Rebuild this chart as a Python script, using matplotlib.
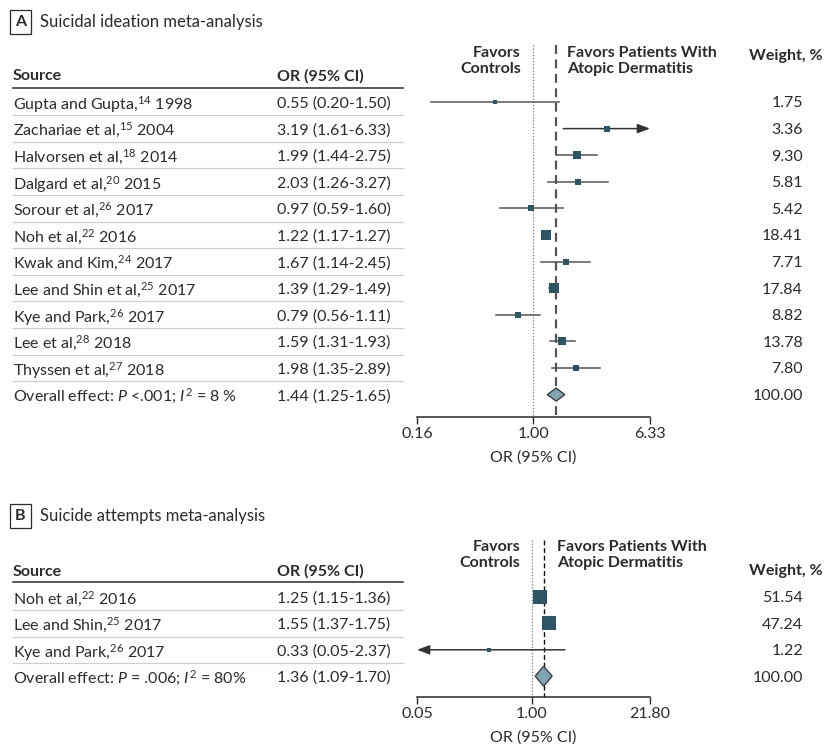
import numpy as np
import matplotlib.pyplot as plt
from matplotlib.transforms import blended_transform_factory
from matplotlib.patches import Polygon
from matplotlib.ticker import NullLocator

plt.rcParams['font.family'] = ['Lato', 'DejaVu Sans']
plt.rcParams['mathtext.fontset'] = 'custom'
plt.rcParams['mathtext.rm'] = 'Lato'
plt.rcParams['mathtext.it'] = 'Lato:italic'
plt.rcParams['mathtext.bf'] = 'Lato:bold'

W, H = 825, 747
TXT = '#2b2b2b'
SQ = '#2d5563'
DIA = '#7fa5b3'
CI_COL = '#555555'
FS = 11.5

# Panel A: suicidal ideation
src_a = ["Gupta and Gupta,$^{14}$ 1998", "Zachariae et al,$^{15}$ 2004",
         "Halvorsen et al,$^{18}$ 2014", "Dalgard et al,$^{20}$ 2015",
         "Sorour et al,$^{26}$ 2017", "Noh et al,$^{22}$ 2016",
         "Kwak and Kim,$^{24}$ 2017", "Lee and Shin et al,$^{25}$ 2017",
         "Kye and Park,$^{26}$ 2017", "Lee et al,$^{28}$ 2018",
         "Thyssen et al,$^{27}$ 2018"]
or_a = [0.55, 3.19, 1.99, 2.03, 0.97, 1.22, 1.67, 1.39, 0.79, 1.59, 1.98]
lo_a = [0.20, 1.61, 1.44, 1.26, 0.59, 1.17, 1.14, 1.29, 0.56, 1.31, 1.35]
hi_a = [1.50, 6.33, 2.75, 3.27, 1.60, 1.27, 2.45, 1.49, 1.11, 1.93, 2.89]
wt_a = [1.75, 3.36, 9.30, 5.81, 5.42, 18.41, 7.71, 17.84, 8.82, 13.78, 7.80]
overall_a = [1.44, 1.25, 1.65]
overall_lbl_a = "Overall effect: $P$ <.001; $I^{2}$ = 8 %"
ticks_a = [0.16, 1.00, 6.33]

# Panel B: suicide attempts
src_b = ["Noh et al,$^{22}$ 2016", "Lee and Shin,$^{25}$ 2017",
         "Kye and Park,$^{26}$ 2017"]
or_b = [1.25, 1.55, 0.33]
lo_b = [1.15, 1.37, 0.05]
hi_b = [1.36, 1.75, 2.37]
wt_b = [51.54, 47.24, 1.22]
overall_b = [1.36, 1.09, 1.70]
overall_lbl_b = "Overall effect: $P$ = .006; $I^{2}$ = 80%"
ticks_b = [0.05, 1.00, 21.80]

fig = plt.figure(figsize=(W / 100, H / 100), dpi=100)


def fx(px):
    return px / W


def panel(letter, title, title_y, src, ors, los, his, wts, overall, overall_lbl,
          ticks, row0, step, head_y, axis_y, line_top, fav_y, fav_right_x,
          fav_left_x, weight_head_y, src_head_y, dia_h, dash_style):
    n = len(src)
    ax = fig.add_axes([fx(417), 1 - axis_y / H, fx(650 - 417), (axis_y - head_y) / H])
    yb = (axis_y - row0) / step
    yt = (head_y - row0) / step
    ax.set_ylim(yb, yt)
    ax.set_xscale('log')
    ax.set_xlim(ticks[0], ticks[-1])
    ax.patch.set_alpha(0)
    for s in ['top', 'right', 'left']:
        ax.spines[s].set_visible(False)
    ax.spines['bottom'].set_color(TXT)
    ax.spines['bottom'].set_linewidth(1.1)
    ax.set_yticks([])
    ax.set_xticks(ticks)
    ax.set_xticklabels(['%.2f' % t for t in ticks])
    ax.xaxis.set_minor_locator(NullLocator())
    ax.tick_params(axis='x', length=5, width=1, color=TXT, labelsize=FS,
                   labelcolor=TXT, pad=2)
    tr = blended_transform_factory(fig.transFigure, ax.transData)

    def ry(px):
        return (px - row0) / step

    # panel title
    fig.text(fx(20.5), 1 - title_y / H, letter, fontsize=FS, fontweight='bold',
             color=TXT, ha='center', va='center',
             bbox=dict(boxstyle='square,pad=0.32', fc='white', ec=TXT, lw=0.9))
    fig.text(fx(40), 1 - title_y / H, title, fontsize=FS + 0.5, color=TXT,
             ha='left', va='center')

    # headers
    ax.text(fx(13), ry(src_head_y), 'Source', transform=tr, fontsize=FS,
            fontweight='bold', color=TXT, va='center_baseline')
    ax.text(fx(277), ry(src_head_y), 'OR (95% CI)', transform=tr, fontsize=FS,
            fontweight='bold', color=TXT, va='center_baseline')
    ax.text(fx(fav_right_x), ry(fav_y), 'Favors\nControls', transform=tr,
            fontsize=FS, fontweight='bold', color=TXT, ha='right', va='top',
            linespacing=1.2)
    ax.text(fx(fav_left_x), ry(fav_y), 'Favors Patients With\nAtopic Dermatitis',
            transform=tr, fontsize=FS, fontweight='bold', color=TXT, ha='left',
            va='top', linespacing=1.2)
    ax.text(fx(823), ry(weight_head_y), 'Weight, %', transform=tr, fontsize=FS,
            fontweight='bold', color=TXT, ha='right', va='center_baseline')

    # header rule and row separators
    ax.plot([fx(13), fx(403)], [yt, yt], transform=tr, color=TXT, lw=1.1,
            clip_on=False)
    for i in range(n):
        ax.plot([fx(13), fx(403)], [i + 0.5, i + 0.5], transform=tr,
                color='#cfcfcf', lw=0.9, clip_on=False)

    # rows
    labels = src + [overall_lbl]
    ci_txt = ['%.2f (%.2f-%.2f)' % (o, l, h) for o, l, h in zip(ors, los, his)]
    ci_txt.append('%.2f (%.2f-%.2f)' % tuple(overall))
    w_txt = ['%.2f' % w for w in wts] + ['100.00']
    for i in range(n + 1):
        ax.text(fx(13), i, labels[i], transform=tr, fontsize=FS, color=TXT,
                va='center_baseline')
        ax.text(fx(277), i, ci_txt[i], transform=tr, fontsize=FS, color=TXT,
                va='center_baseline')
        ax.text(fx(803), i, w_txt[i], transform=tr, fontsize=FS, color=TXT,
                ha='right', va='center_baseline')

    # reference lines
    ax.plot([1, 1], [ry(line_top), yb], ls=(0, (1, 1.5)), color='#777777',
            lw=0.9, clip_on=False, zorder=1)
    ax.plot([overall[0]] * 2, [ry(line_top), yb], ls=dash_style[0],
            color=dash_style[1], lw=dash_style[2], clip_on=False, zorder=1)

    # study estimates
    xmin, xmax = ticks[0], ticks[-1]
    arrow = dict(arrowstyle='-|>,head_length=0.75,head_width=0.28',
                 color='#333333', lw=1.1, shrinkA=0, shrinkB=0)
    for i in range(n):
        lo, hi = los[i], his[i]
        if hi >= xmax:
            ax.annotate('', xy=(xmax, i), xytext=(lo, i), arrowprops=arrow,
                        zorder=2)
        elif lo <= xmin:
            ax.annotate('', xy=(xmin, i), xytext=(hi, i), arrowprops=arrow,
                        zorder=2)
        else:
            ax.plot([lo, hi], [i, i], color=CI_COL, lw=1.1, zorder=2)
        side = (1.8 + 1.75 * np.sqrt(wts[i])) * 0.72
        ax.plot(ors[i], i, 's', ms=side, mfc=SQ, mec=SQ, mew=0, zorder=4)

    # overall diamond
    o, l, h = overall
    d = dia_h / step
    ax.add_patch(Polygon([[l, n], [o, n - d], [h, n], [o, n + d]], closed=True,
                         fc=DIA, ec='#333333', lw=0.9, zorder=5))

    ax.text(0.5, ry(axis_y + 39), 'OR (95% CI)',
            transform=blended_transform_factory(ax.transAxes, ax.transData),
            fontsize=FS, color=TXT, ha='center', va='center_baseline')
    return ax


panel('A', 'Suicidal ideation meta-analysis', 22, src_a, or_a, lo_a, hi_a, wt_a,
      overall_a, overall_lbl_a, ticks_a, row0=102, step=26.6, head_y=88,
      axis_y=417, line_top=45, fav_y=46, fav_right_x=521, fav_left_x=567,
      weight_head_y=55, src_head_y=75, dia_h=6.5,
      dash_style=[(0, (4, 2.5)), '#555555', 1.6])

panel('B', 'Suicide attempts meta-analysis', 516, src_b, or_b, lo_b, hi_b, wt_b,
      overall_b, overall_lbl_b, ticks_b, row0=597, step=26.4, head_y=582,
      axis_y=697, line_top=540, fav_y=540, fav_right_x=520, fav_left_x=557,
      weight_head_y=570, src_head_y=570, dia_h=10,
      dash_style=[(0, (3.5, 2)), '#111111', 1.0])

fig.savefig('out.png', dpi=100)
